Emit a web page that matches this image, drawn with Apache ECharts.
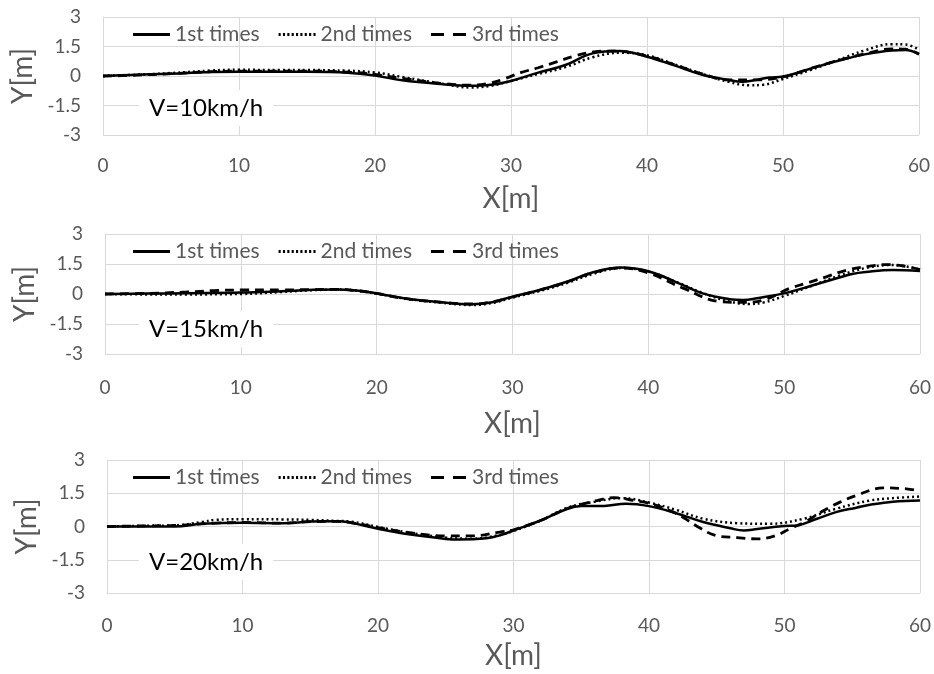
<!DOCTYPE html>
<html>
<head>
<meta charset="utf-8">
<script src="https://cdn.jsdelivr.net/npm/echarts@6/dist/echarts.min.js"></script>
<style>
html,body{margin:0;padding:0;background:#fff;}
#chart{width:934px;height:674px;}
</style>
</head>
<body>
<div id="chart"></div>
<script>
// ---- data ----
var runNames = ['1st times', '2nd times', '3rd times'];
var speedLabels = ['V=10km/h', 'V=15km/h', 'V=20km/h'];
var xTicks = [0, 10, 20, 30, 40, 50, 60];
var yTicks = [-3, -1.5, 0, 1.5, 3];

// V=10km/h
var v10run1 = [[0,0],[2,0.05],[5,0.12],[8,0.2],[10,0.22],[13,0.22],[15,0.22],[18,0.17],[20,0.02],[22,-0.22],[25,-0.42],[27,-0.5],[28.5,-0.45],[30,-0.25],[32,0.17],[34,0.56],[36,1.15],[38,1.27],[40,0.98],[42,0.54],[44,0.08],[46,-0.2],[47,-0.29],[48,-0.2],[49,-0.08],[50,-0.03],[52,0.37],[54,0.76],[56,1.1],[58,1.3],[59,1.32],[60,1.1]];
var v10run2 = [[0,0],[2,0.05],[5,0.15],[8,0.28],[10,0.32],[13,0.3],[15,0.3],[18,0.27],[20,0.18],[22,-0.05],[25,-0.4],[27,-0.58],[28.5,-0.5],[30,-0.25],[32,0.1],[34,0.45],[36,0.95],[38,1.18],[40,1.05],[42,0.6],[44,0.12],[46,-0.3],[47.5,-0.47],[48.5,-0.45],[50,-0.15],[52,0.3],[54,0.8],[56,1.3],[58,1.62],[59,1.6],[60,1.35]];
var v10run3 = [[0,0],[2,0.03],[5,0.12],[8,0.22],[10,0.25],[13,0.25],[15,0.25],[18,0.2],[20,0.08],[22,-0.12],[25,-0.38],[27,-0.47],[28.5,-0.35],[29.6,-0.12],[30.7,0.17],[32,0.42],[33.4,0.73],[34.7,1.02],[36.1,1.22],[37.5,1.27],[40,1.02],[42,0.58],[44,0.12],[46,-0.2],[48,-0.2],[50,-0.05],[52,0.38],[54,0.78],[56,1.12],[58,1.38],[59,1.36],[60,1.12]];

// V=15km/h
var v15run1 = [[0,0],[3,0.02],[6,0.04],[10,0.07],[13,0.14],[15,0.2],[17,0.23],[18.5,0.18],[20,0.03],[22,-0.21],[25,-0.43],[27,-0.51],[28.5,-0.41],[30,-0.13],[32,0.2],[34,0.61],[36,1.1],[38,1.32],[40,1.14],[42,0.61],[44,0.03],[46,-0.26],[47,-0.3],[48,-0.21],[50,0.03],[52,0.41],[54,0.81],[55,1.0],[56,1.1],[58,1.2],[60,1.15]];
var v15run2 = [[0,0],[3,-0.02],[6,-0.02],[10,0.0],[13,0.1],[15,0.18],[17,0.22],[18.5,0.17],[20,0.02],[22,-0.22],[25,-0.45],[27,-0.55],[28.5,-0.45],[30,-0.18],[32,0.15],[34,0.55],[36,1.02],[38,1.3],[40,1.12],[42,0.62],[44,0.05],[46,-0.38],[47.4,-0.5],[48.5,-0.42],[50,-0.1],[52,0.4],[54,0.9],[56,1.3],[58,1.45],[60,1.22]];
var v15run3 = [[0,0],[3,0.03],[6,0.1],[8,0.17],[10,0.2],[13,0.2],[15,0.22],[17,0.23],[18.5,0.17],[20,0.03],[22,-0.22],[25,-0.43],[27,-0.5],[28.5,-0.4],[30,-0.15],[32,0.2],[34,0.6],[36,1.08],[38,1.3],[40,1.05],[42.6,0.28],[45.3,-0.38],[47,-0.42],[48.5,-0.3],[50.4,0.28],[51.6,0.53],[53.1,0.86],[54.6,1.19],[56.3,1.39],[57.5,1.47],[58.8,1.4],[60,1.22]];

// V=20km/h
var v20run1 = [[0,0],[3,0.0],[5,0.0],[7,0.12],[10,0.17],[13,0.15],[15,0.22],[17,0.24],[18,0.17],[20,-0.1],[22,-0.33],[25,-0.56],[26,-0.59],[28,-0.53],[29,-0.4],[30,-0.18],[32,0.27],[34,0.8],[35,0.92],[36.7,0.93],[38.3,1.03],[40,0.92],[42,0.6],[44,0.2],[46,-0.08],[47,-0.18],[48,-0.11],[50,0.02],[51,0.06],[52.4,0.35],[53.8,0.65],[55.3,0.85],[56.5,1.0],[58,1.12],[60,1.17]];
var v20run2 = [[0,0],[3,0.03],[5,0.05],[7,0.2],[8,0.3],[10,0.33],[13,0.32],[15,0.3],[17,0.25],[18,0.22],[20,-0.02],[22,-0.25],[25,-0.5],[27,-0.55],[29,-0.38],[30,-0.2],[32,0.27],[34,0.85],[36,1.12],[38,1.28],[40,1.08],[42,0.75],[44,0.35],[46.5,0.15],[48.9,0.12],[51.4,0.35],[53.8,0.8],[56.3,1.17],[58,1.28],[60,1.35]];
var v20run3 = [[0,0],[3,0.03],[5,0.05],[8,0.15],[10,0.18],[13,0.15],[15,0.22],[17,0.23],[18,0.18],[20,-0.05],[22,-0.25],[25,-0.42],[27,-0.42],[29,-0.25],[30,-0.15],[32,0.27],[34,0.82],[36,1.15],[37.4,1.3],[38.9,1.17],[40.3,1.0],[41.8,0.65],[42.5,0.42],[43.8,-0.08],[44.9,-0.4],[46.5,-0.5],[48,-0.56],[49.4,-0.4],[50.4,-0.1],[51.5,0.2],[52.9,0.72],[54.1,1.1],[55.3,1.4],[57.3,1.74],[59,1.7],[60,1.6]];

var panels = [[v10run1, v10run2, v10run3], [v15run1, v15run2, v15run3], [v20run1, v20run2, v20run3]];

// ---- layout / style ----
var FONT = 'Lato';
var GRAY = '#595959';
var GRID = '#d9d9d9';
var grids = [
  {left: 103, right: 15, top: 17, height: 118},
  {left: 105, right: 12, top: 234, height: 120},
  {left: 107, right: 12, top: 460, height: 133}
];
var xNameGaps = [50, 56, 49];
var xLabelMargins = [21, 24, 23];
var labelTops = [90, 311, 544];
var lineTypes = ['solid', [2, 3], [9, 6]];
var lineWidths = [2.5, 2.5, 2.8];

// legend icons drawn as small paths (solid / dotted / dashed)
function dottedPath() {
  var s = '';
  for (var x = 0; x < 37; x += 4.5) { s += 'M' + x + ',0H' + (x + 2.2) + 'V3H' + x + 'Z'; }
  return 'path://' + s;
}
var legendIcons = [
  'path://M0,0H37V3H0Z',
  dottedPath(),
  'path://M0,0H13V3H0ZM22,0H35V3H22Z'
];

var option = {
  animation: false,
  backgroundColor: '#fff',
  textStyle: {fontFamily: FONT},
  grid: grids.map(function (g) { return Object.assign({containLabel: false}, g); }),
  xAxis: grids.map(function (g, i) {
    return {
      type: 'value', gridIndex: i, min: xTicks[0], max: xTicks[xTicks.length - 1], interval: 10,
      name: 'X[m]', nameLocation: 'middle', nameGap: xNameGaps[i],
      nameTextStyle: {fontFamily: FONT, fontSize: 28, color: GRAY},
      axisLine: {show: true, lineStyle: {color: GRID, width: 1}},
      axisTick: {show: false},
      axisLabel: {fontFamily: FONT, fontSize: 19, color: GRAY, margin: xLabelMargins[i]},
      splitLine: {show: true, lineStyle: {color: GRID, width: 1}}
    };
  }),
  yAxis: grids.map(function (g, i) {
    return {
      type: 'value', gridIndex: i, min: yTicks[0], max: yTicks[yTicks.length - 1], interval: 1.5,
      name: 'Y[m]', nameLocation: 'middle', nameGap: 63,
      nameTextStyle: {fontFamily: FONT, fontSize: 28, color: GRAY},
      axisLine: {show: true, lineStyle: {color: GRID, width: 1}},
      axisTick: {show: false},
      axisLabel: {fontFamily: FONT, fontSize: 19, color: GRAY, margin: 22},
      splitLine: {show: true, lineStyle: {color: GRID, width: 1}}
    };
  }),
  legend: grids.map(function (g, i) {
    return {
      left: 128, top: g.top + 2,
      data: runNames.map(function (n, k) { return {name: n, icon: legendIcons[k]}; }),
      itemWidth: 37, itemHeight: 3, itemGap: 19,
      itemStyle: {color: '#000', borderWidth: 0},
      textStyle: {fontFamily: FONT, fontSize: 21, color: GRAY},
      selectedMode: false
    };
  }),
  graphic: grids.map(function (g, i) {
    return {
      type: 'text', left: 139, top: labelTops[i], z: 10,
      style: {
        text: speedLabels[i], fill: '#000', font: '24px ' + FONT,
        backgroundColor: '#fff', padding: [6, 10, 6, 10]
      }
    };
  }),
  series: []
};

panels.forEach(function (runs, p) {
  runs.forEach(function (data, r) {
    option.series.push({
      type: 'line', name: runNames[r], xAxisIndex: p, yAxisIndex: p,
      data: data, smooth: 0.4, symbol: 'none', showSymbol: false,
      lineStyle: {color: '#000', width: lineWidths[r], type: lineTypes[r]},
      itemStyle: {color: '#000'},
      z: 3 - r
    });
  });
});

var chart = echarts.init(document.getElementById('chart'), null, {renderer: 'canvas'});
chart.setOption(option);
</script>
</body>
</html>
